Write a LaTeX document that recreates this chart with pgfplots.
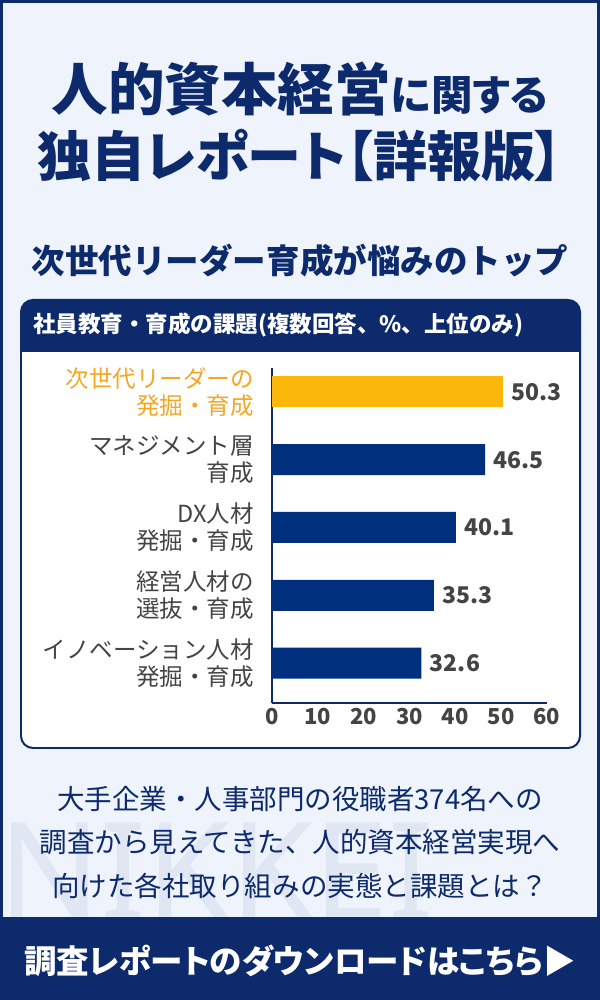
\documentclass[border=0pt]{standalone}
\usepackage{fontspec}
\setmainfont{Noto Sans CJK JP}
\newfontfamily\jpp[RawFeature=+palt]{Noto Sans CJK JP}
\newfontfamily\wmfont{Noto Sans}
\usepackage{pgfplots}
\pgfplotsset{compat=1.18}
\definecolor{navy}{RGB}{13,42,108}
\definecolor{barnavy}{RGB}{0,47,126}
\definecolor{baryel}{RGB}{252,184,10}
\definecolor{labyel}{RGB}{245,166,35}
\definecolor{bgblue}{RGB}{238,243,252}
\definecolor{wm}{RGB}{224,230,242}
\definecolor{txtgray}{RGB}{68,68,68}
\newcommand{\fs}[2]{\fontsize{#1bp}{#2bp}\selectfont}
\begin{document}
\begin{tikzpicture}[x=1bp,y=1bp]
\fill[bgblue] (0,0) rectangle (600,1000);
% watermark
\begin{scope}
\clip (0,83) rectangle (600,1000);
\node[anchor=base west, inner sep=0, text=wm, font=\wmfont\fs{135}{135}\bfseries] at (-2,80) {NIKKEI};
\end{scope}
% title
\node[anchor=base, inner sep=0, text=navy] at (300,889) {{\jpp\fs{56.5}{56}\bfseries 人的資本経営}{\jpp\fs{41.5}{41}\bfseries に関する}};
\node[anchor=base, inner sep=0, text=navy] at (300,823) {\jpp\fs{54}{54}\bfseries 独自レポート【詳報版】};
\node[anchor=base, inner sep=0, text=navy] at (300,726) {\fs{33.5}{33}\bfseries 次世代リーダー育成が悩みのトップ};
% chart box
\fill[white, rounded corners=12] (21,252) rectangle (580,700);
\fill[navy] (21,648) [rounded corners=12]-- (21,700) -- (580,700) [sharp corners]-- (580,648) -- cycle;
\draw[navy, line width=2, rounded corners=12] (21,252) rectangle (580,700);
\node[anchor=base west, inner sep=0, text=white] at (33,667) {\fs{22.5}{22}\bfseries 社員教育・育成の課題(複数回答、\%、上位のみ)};
\begin{axis}[
  at={(272bp,297bp)}, anchor=south west,
  scale only axis, width=275bp, height=335bp,
  xmin=0, xmax=60, ymin=-0.59, ymax=4.354,
  axis x line=bottom, axis y line=left,
  axis line style={-, navy, line width=1.5pt},
  xbar, bar width=31bp, bar shift=0pt,
  xtick={0,10,20,30,40,50,60},
  major tick length=0pt,
  /pgf/number format/assume math mode=true,
  xticklabel style={font=\fs{22}{22}\bfseries, text=txtgray, yshift=-2bp},
  ytick={0,1,2,3,4},
  yticklabels={{イノベーション人材\\発掘・育成},{経営人材の\\選抜・育成},{DX人材\\発掘・育成},{マネジメント層\\育成},{\textcolor{labyel}{次世代リーダーの}\\\textcolor{labyel}{発掘・育成}}},
  yticklabel style={align=right, font=\fs{23.5}{27}, text=txtgray, inner sep=0pt, xshift=-18bp},
  point meta=x,
  nodes near coords={\pgfmathprintnumber[fixed,fixed zerofill,precision=1,assume math mode=true]{\pgfplotspointmeta}},
  nodes near coords style={font=\fs{23}{23}\bfseries, text=txtgray, xshift=5bp},
  clip=false,
]
\addplot[fill=baryel, draw=none] coordinates {(50.3,4)};
\addplot[fill=barnavy, draw=none] coordinates {(46.5,3) (40.1,2) (35.3,1) (32.6,0)};
\end{axis}
% bottom text
\node[anchor=base, inner sep=0, text=navy] at (300,190) {\fs{27.5}{27}大手企業・人事部門の役職者374名への};
\node[anchor=base, inner sep=0, text=navy] at (300,147) {\fs{27.5}{27}調査から見えてきた、人的資本経営実現へ};
\node[anchor=base, inner sep=0, text=navy] at (300,103) {\fs{27.5}{27}向けた各社取り組みの実態と課題とは？};
% bottom band
\fill[navy] (0,0) rectangle (600,83);
\node[anchor=base, inner sep=0, text=white] at (300,26) {\jpp\fs{32.5}{32}\bfseries 調査レポートのダウンロードはこちら▶};
\draw[navy, line width=3] (1.5,1.5) rectangle (598.5,998.5);
\end{tikzpicture}
\end{document}
